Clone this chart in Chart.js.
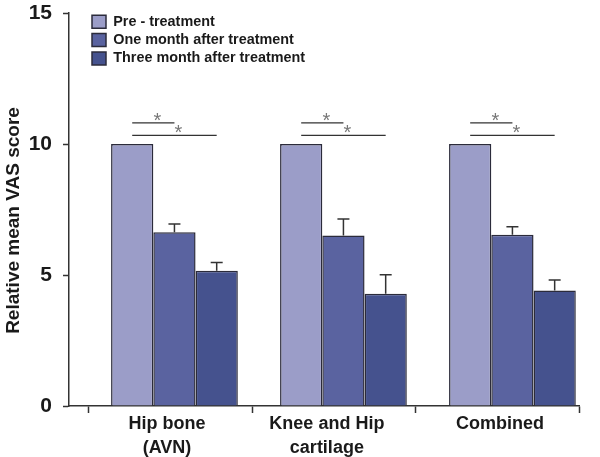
<!DOCTYPE html>
<html><head><meta charset="utf-8">
<script src="https://cdn.jsdelivr.net/npm/chart.js@4"></script>
<style>html,body{margin:0;padding:0;background:#fff}#wrap{width:600px;height:457px;position:relative}</style>
</head><body><div id="wrap"><canvas id="c"></canvas></div>
<script>
// ---- data ----
const categories = [['Hip bone', '(AVN)'], ['Knee and Hip', 'cartilage'], ['Combined']];
const seriesNames = ['Pre - treatment', 'One month after treatment', 'Three month after treatment'];
const preTreatment = [10, 10, 10];
const oneMonth = [6.63, 6.51, 6.54];
const threeMonth = [5.16, 4.28, 4.41];
const preErr = [0, 0, 0];
const oneMonthErr = [0.32, 0.63, 0.30];
const threeMonthErr = [0.32, 0.73, 0.40];
const yTicks = [0, 5, 10, 15];
const yTitle = 'Relative mean VAS score';
// significance brackets: [from series, to series, level]
const sigBrackets = [[0, 1, 10.81], [0, 2, 10.33]];
const sigMark = '*';

// ---- layout / style ----
const FONT = '"Liberation Sans", Arial, Helvetica, sans-serif';
const X_MIN = -0.624, X_MAX = 2.394;
const xBoundaries = [-0.506, 0.464, 1.429, 2.394];
const xLabelPos = [-0.044, 0.902, 1.926];
const colors = ['#9b9dc8', '#5a63a0', '#45528e'];
const edge = '#2b2b3b';
const axisColor = '#333';
const TITLE_SHIFT = 11;

const seriesValues = [preTreatment, oneMonth, threeMonth];
const seriesErrs = [preErr, oneMonthErr, threeMonthErr];

const datasets = seriesNames.map((name, s) => ({
  label: name,
  data: seriesValues[s].map((v, i) => ({ x: i, y: v })),
  errors: seriesErrs[s],
  backgroundColor: colors[s],
  borderColor: edge,
  borderWidth: 1.5,
  categoryPercentage: 0.75,
  barPercentage: 1.0
}));

const errorBarPlugin = {
  id: 'errorBars',
  afterDatasetsDraw(chart) {
    const { ctx } = chart; const y = chart.scales.y;
    ctx.save(); ctx.strokeStyle = axisColor; ctx.lineWidth = 1.5;
    chart.data.datasets.forEach((ds, di) => {
      const meta = chart.getDatasetMeta(di);
      meta.data.forEach((bar, i) => {
        const err = ds.errors[i]; if (!err) return;
        const yTop = y.getPixelForValue(ds.data[i].y + err);
        ctx.beginPath();
        ctx.moveTo(bar.x, bar.y); ctx.lineTo(bar.x, yTop);
        ctx.moveTo(bar.x - 6, yTop); ctx.lineTo(bar.x + 6, yTop);
        ctx.stroke();
      });
    });
    ctx.restore();
  }
};

const bracketPlugin = {
  id: 'brackets',
  afterDatasetsDraw(chart) {
    const { ctx } = chart; const y = chart.scales.y;
    ctx.save();
    categories.forEach((c, i) => {
      sigBrackets.forEach(([a, b, level]) => {
        const xa = chart.getDatasetMeta(a).data[i].x;
        const xb = chart.getDatasetMeta(b).data[i].x;
        const yl = y.getPixelForValue(level);
        ctx.strokeStyle = axisColor; ctx.lineWidth = 1.2;
        ctx.beginPath(); ctx.moveTo(xa, yl); ctx.lineTo(xb, yl); ctx.stroke();
        ctx.font = '20px ' + FONT; ctx.fillStyle = '#777';
        ctx.textAlign = 'center'; ctx.textBaseline = 'alphabetic';
        const m = ctx.measureText(sigMark);
        const mid = (m.actualBoundingBoxAscent - m.actualBoundingBoxDescent) / 2;
        ctx.fillText(sigMark, (xa + xb) / 2 + 4, yl - 6 + mid);
      });
    });
    ctx.restore();
  }
};

// place the (vertical) legend inside the plot near its top-left corner,
// and nudge only the y title slightly downward as in the original figure
const layoutTweaks = {
  id: 'layoutTweaks',
  afterLayout(chart) {
    const lg = chart.legend, ca = chart.chartArea;
    if (lg) {
      const h = lg.bottom - lg.top;
      lg.left = ca.left + 19; lg.top = ca.top - 2.5; lg.bottom = lg.top + h;
    }
    const ys = chart.scales.y;
    if (ys && !ys._titleShifted) {
      const orig = ys.drawTitle;
      ys.drawTitle = function () {
        this.top += TITLE_SHIFT; this.bottom += TITLE_SHIFT;
        try { orig.apply(this, arguments); }
        finally { this.top -= TITLE_SHIFT; this.bottom -= TITLE_SHIFT; }
      };
      ys._titleShifted = true;
    }
  }
};

new Chart(document.getElementById('c'), {
  type: 'bar',
  data: { datasets },
  plugins: [errorBarPlugin, bracketPlugin, layoutTweaks],
  options: {
    responsive: true, maintainAspectRatio: false, animation: false, devicePixelRatio: 1,
    layout: { padding: { top: 13, right: 21, left: 0, bottom: 0 } },
    plugins: {
      tooltip: { enabled: false },
      legend: {
        position: 'chartArea', align: 'start',
        labels: {
          boxWidth: 14, boxHeight: 13, padding: 4,
          font: { family: FONT, size: 14.4, weight: 'bold' }, color: '#1a1a1a'
        }
      }
    },
    scales: {
      x: {
        type: 'linear', display: false, min: X_MIN, max: X_MAX, offset: false,
        grid: { offset: false },
        afterBuildTicks: (s) => { s.ticks = categories.map((c, i) => ({ value: i })); }
      },
      xt: {
        type: 'linear', position: 'bottom', min: X_MIN, max: X_MAX, offset: false,
        afterBuildTicks: (s) => {
          const t = xBoundaries.map(v => ({ value: v }))
            .concat(xLabelPos.map((v, k) => ({ value: v, cat: k })));
          t.sort((p, q) => p.value - q.value);
          s.ticks = t;
        },
        afterFit: (s) => { s.height = 51; s.paddingLeft = 0; s.paddingRight = 0; },
        ticks: {
          autoSkip: false, maxRotation: 0, minRotation: 0, padding: 0,
          font: { family: FONT, size: 18, weight: 'bold', lineHeight: 1.28 }, color: '#1a1a1a',
          callback: function (value, index, ticks) {
            const t = ticks[index];
            return t.cat != null ? categories[t.cat] : '';
          }
        },
        grid: {
          offset: false, drawOnChartArea: false, drawTicks: true, tickLength: 7, tickWidth: 1.5,
          tickColor: (ctx) => (ctx.tick && ctx.tick.cat != null) ? 'rgba(0,0,0,0)' : axisColor
        },
        border: { display: true, color: axisColor, width: 1.5 }
      },
      y: {
        min: 0, max: 15,
        afterBuildTicks: (s) => { s.ticks = yTicks.map(v => ({ value: v })); },
        afterFit: (s) => { s.width = 69; s.paddingTop = 0; s.paddingBottom = 0; },
        ticks: { padding: 11, font: { family: FONT, size: 21, weight: 'bold' }, color: '#1a1a1a' },
        grid: { drawOnChartArea: false, drawTicks: true, tickLength: 6, tickWidth: 1.5, tickColor: axisColor },
        border: { display: true, color: axisColor, width: 1.5 },
        title: {
          display: true, text: yTitle, color: '#1a1a1a',
          font: { family: FONT, size: 19, weight: 'bold' }, padding: { top: 2, bottom: 0 }
        }
      }
    }
  }
});
</script></body></html>
